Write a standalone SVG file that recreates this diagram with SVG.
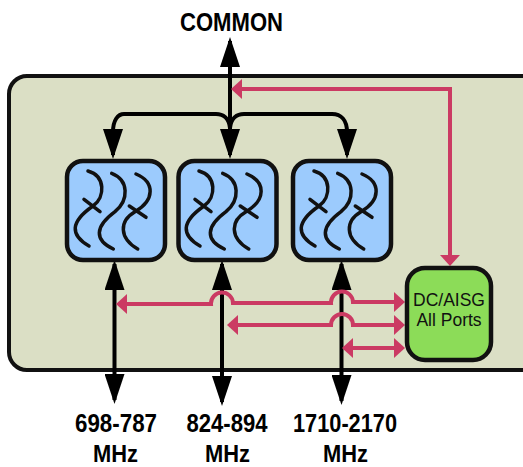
<svg xmlns="http://www.w3.org/2000/svg" width="523" height="467" viewBox="0 0 523 467">
<style>
.blk{fill:none;stroke:#000;stroke-width:4}
.red{fill:none;stroke:#cb3a63;stroke-width:4}
.box{fill:#9ccbfd;stroke:#111;stroke-width:4.5}
.sq{fill:none;stroke:#111;stroke-width:3.5;stroke-linecap:round}
.lbl{font-family:"Liberation Sans",Arial,sans-serif;font-size:25px;font-weight:bold;fill:#000;text-anchor:middle}
.mhz{font-size:24px}
.dc{font-family:"Liberation Sans",Arial,sans-serif;font-size:17.5px;fill:#111;text-anchor:middle}
</style>
<defs>
<marker id="ab" markerUnits="userSpaceOnUse" markerWidth="30" markerHeight="20" refX="26" refY="10" viewBox="0 0 30 20" orient="auto-start-reverse"><path d="M0 0L30 10L0 20Z" fill="#000"/></marker>
<marker id="ar" markerUnits="userSpaceOnUse" markerWidth="11" markerHeight="20" refX="9" refY="10" viewBox="0 0 11 20" orient="auto-start-reverse"><path d="M0 0L11 10L0 20Z" fill="#cb3a63"/></marker>
<g id="sq">
<path class="sq" d="M88 171C105.500 176 105.500 197 93 206C70 222 70 235 89 246M84 199.300L100 211.700"/>
<path class="sq" d="M111.700 173.300C129 180 129 200 115 211.700C94.400 227 94.400 240 113.300 249"/>
<path class="sq" d="M136 174C155 182 155 200 135 211.700C119 221 119 238 137.700 249M129.300 206L146 217.300"/>
</g>
</defs>
<rect id="panel" x="9" y="76" width="530" height="294" rx="18" fill="#dbdfc5" stroke="#111" stroke-width="4"/>
<g id="connectors">
<path class="blk" d="M230 155V41" marker-end="url(#ab)"/>
<path class="blk" d="M230 128C229 118 223 114 216 114H124C118 114 113 120 113 132V155" marker-end="url(#ab)"/>
<path class="blk" d="M230 128C231 118 237 114 244 114H332C341 114 347 120 347 132V155" marker-end="url(#ab)"/>
<path class="blk" d="M230 128V155" marker-end="url(#ab)"/>
<path class="blk" d="M114.500 264V400" marker-start="url(#ab)" marker-end="url(#ab)"/>
<path class="blk" d="M222 264V402" marker-start="url(#ab)" marker-end="url(#ab)"/>
<path class="blk" d="M341.500 264V401" marker-start="url(#ab)" marker-end="url(#ab)"/>
<path class="red" d="M450 264V89H233" marker-start="url(#ar)" marker-end="url(#ar)"/>
<path class="red" d="M118 304H211A11 11 0 0 1 233 303H331A11 11 0 0 1 353 302H403" marker-start="url(#ar)" marker-end="url(#ar)"/>
<path class="red" d="M229 325H331A11 11 0 0 1 353 325H403" marker-start="url(#ar)" marker-end="url(#ar)"/>
<path class="red" d="M344 348H403" marker-start="url(#ar)" marker-end="url(#ar)"/>
</g>
<g id="filter1"><rect class="box" x="67" y="161" width="98" height="99" rx="16"/><use href="#sq"/></g>
<g id="filter2"><rect class="box" x="178.500" y="161" width="98" height="99" rx="16"/><use href="#sq" x="111"/></g>
<g id="filter3"><rect class="box" x="293" y="161" width="98" height="99" rx="16"/><use href="#sq" x="226"/></g>
<g id="dc"><rect x="407" y="268" width="84" height="92" rx="18" fill="#8cdc58" stroke="#111" stroke-width="4.500"/><text class="dc" x="449" y="306">DC/AISG</text><text class="dc" x="449" y="326">All Ports</text></g>
<g id="labels">
<text class="lbl" x="231.500" y="31" textLength="103" lengthAdjust="spacingAndGlyphs">COMMON</text>
<text class="lbl" x="116" y="431.500" textLength="82" lengthAdjust="spacingAndGlyphs">698-787</text><text class="lbl mhz" x="115.500" y="461.500" textLength="45" lengthAdjust="spacingAndGlyphs">MHz</text>
<text class="lbl" x="227" y="431.500" textLength="81" lengthAdjust="spacingAndGlyphs">824-894</text><text class="lbl mhz" x="227.500" y="461.500" textLength="45" lengthAdjust="spacingAndGlyphs">MHz</text>
<text class="lbl" x="345" y="431.500" textLength="104" lengthAdjust="spacingAndGlyphs">1710-2170</text><text class="lbl mhz" x="345.500" y="461.500" textLength="45" lengthAdjust="spacingAndGlyphs">MHz</text>
</g>
</svg>
